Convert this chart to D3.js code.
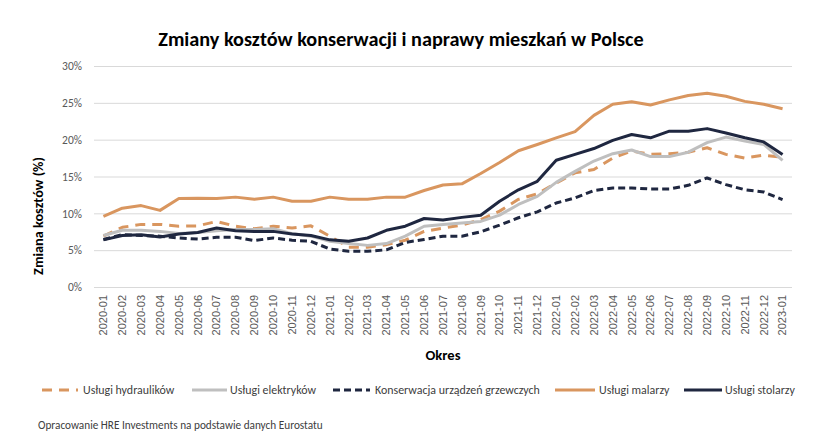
<!DOCTYPE html>
<html><head><meta charset="utf-8">
<script src="https://cdn.jsdelivr.net/npm/d3@7"></script>
<style>body{margin:0;background:#fff}</style>
</head><body>
<svg id="c" width="839" height="441"></svg>
<script>
const months = ["2020-01","2020-02","2020-03","2020-04","2020-05","2020-06","2020-07","2020-08","2020-09","2020-10","2020-11","2020-12",
"2021-01","2021-02","2021-03","2021-04","2021-05","2021-06","2021-07","2021-08","2021-09","2021-10","2021-11","2021-12",
"2022-01","2022-02","2022-03","2022-04","2022-05","2022-06","2022-07","2022-08","2022-09","2022-10","2022-11","2022-12","2023-01"];
const hydraulikow = [6.9,8.1,8.5,8.5,8.25,8.3,8.9,8.25,7.9,8.25,8.0,8.3,6.9,5.4,5.4,5.75,6.35,7.55,8.0,8.4,9.15,10.3,11.9,12.65,14.1,15.5,15.95,17.5,18.45,18.0,18.1,18.3,18.9,18.0,17.5,17.9,17.6];
const elektrykow = [7.0,7.7,7.7,7.55,7.25,7.4,7.65,7.8,7.8,7.9,7.25,6.9,6.2,5.9,5.65,5.9,6.9,8.25,8.5,8.7,8.9,9.75,11.2,12.3,14.2,15.7,17.1,18.1,18.6,17.7,17.7,18.3,19.6,20.35,19.8,19.35,17.2];
const konserwacja = [6.45,7.1,7.0,6.9,6.65,6.5,6.75,6.75,6.3,6.65,6.35,6.2,5.15,4.85,4.85,5.05,6.05,6.45,6.9,6.9,7.5,8.4,9.4,10.2,11.4,12.1,13.1,13.45,13.45,13.3,13.3,13.8,14.8,13.9,13.2,12.9,11.85];
const malarzy = [9.6,10.7,11.05,10.4,12.0,12.05,12.0,12.2,11.9,12.2,11.65,11.65,12.2,11.9,11.9,12.2,12.2,13.1,13.85,14.0,15.4,16.9,18.5,19.35,20.25,21.1,23.3,24.8,25.15,24.7,25.4,26.0,26.3,25.9,25.2,24.8,24.2];
const stolarzy = [6.4,7.0,7.1,6.8,7.2,7.4,8.0,7.65,7.55,7.55,7.2,7.0,6.4,6.2,6.65,7.7,8.25,9.3,9.1,9.45,9.75,11.65,13.2,14.35,17.2,18.0,18.8,19.9,20.7,20.25,21.15,21.15,21.5,20.9,20.25,19.7,18.0];
const yTicks = [0,5,10,15,20,25,30];
const seriesNames = ["Usługi hydraulików","Usługi elektryków","Konserwacja urządzeń grzewczych","Usługi malarzy","Usługi stolarzy"];
const titleText = "Zmiany kosztów konserwacji i naprawy mieszkań w Polsce";
const yTitle = "Zmiana kosztów (%)";
const xTitle = "Okres";
const footer = "Opracowanie HRE Investments na podstawie danych Eurostatu";

const ORANGE = "#D9965F", NAVY = "#1F2740", GREY = "#BFBFBF";
const series = [
  {name: seriesNames[0], values: hydraulikow, color: ORANGE, dash: "10,7"},
  {name: seriesNames[1], values: elektrykow, color: GREY, dash: null},
  {name: seriesNames[2], values: konserwacja, color: NAVY, dash: "7,4"},
  {name: seriesNames[3], values: malarzy, color: ORANGE, dash: null},
  {name: seriesNames[4], values: stolarzy, color: NAVY, dash: null}
];

const FONT = "Carlito, Lato, 'Open Sans', sans-serif";
const svg = d3.select("#c");
const L = 94, R = 792, T = 66, B = 287;

function fit(sel, w){
  const l = sel.node().getComputedTextLength();
  const fs = parseFloat(sel.attr("font-size"));
  sel.attr("font-size", fs * w / l);
}

const x = d3.scaleBand().domain(months).range([L, R]);
const y = d3.scaleLinear().domain([0, 30]).range([B, T]);

// y axis + grid
const ya = svg.append("g").attr("transform", `translate(${L},0)`)
  .call(d3.axisLeft(y).tickValues(yTicks).tickFormat(d => d + "%").tickSize(-(R - L)).tickPadding(12));
ya.select(".domain").remove();
ya.selectAll("line").attr("stroke", "#D9D9D9").attr("stroke-width", 1);
ya.selectAll("text").attr("font-family", FONT).attr("font-size", 11.5).attr("fill", "#595959");

// x axis
const xa = svg.append("g").attr("transform", `translate(0,${B})`)
  .call(d3.axisBottom(x).tickSize(0));
xa.select(".domain").remove();
xa.selectAll("text")
  .attr("font-family", "'Liberation Sans', Arial, sans-serif").attr("font-size", 11).attr("fill", "#595959")
  .attr("transform", "rotate(-90)").attr("text-anchor", "end")
  .attr("x", -8).attr("y", 0).attr("dy", "0.35em");

// lines
const line = d3.line().x((d, i) => x(months[i]) + x.bandwidth() / 2).y(d => y(d));
series.forEach(s => {
  svg.append("path").datum(s.values)
    .attr("fill", "none").attr("stroke", s.color).attr("stroke-width", 3)
    .attr("stroke-linejoin", "round")
    .attr("stroke-dasharray", s.dash)
    .attr("d", line);
});

// title
const t = svg.append("text").attr("x", 401).attr("y", 46).attr("text-anchor", "middle")
  .attr("font-family", FONT).attr("font-weight", "bold").attr("font-size", 17).attr("fill", "#000").text(titleText);
fit(t, 486);

// y title
const yt = svg.append("text").attr("transform", "translate(43,216) rotate(-90)").attr("text-anchor", "middle")
  .attr("font-family", FONT).attr("font-weight", "bold").attr("font-size", 12).attr("fill", "#000").text(yTitle);
fit(yt, 118);

// x title
const xt = svg.append("text").attr("x", 443).attr("y", 360).attr("text-anchor", "middle")
  .attr("font-family", FONT).attr("font-weight", "bold").attr("font-size", 13).attr("fill", "#000").text(xTitle);
fit(xt, 35);

// legend
const legendLayout = [
  {x1: 42, x2: 78, tx: 83},
  {x1: 192, x2: 227, tx: 230},
  {x1: 333, x2: 370, tx: 375},
  {x1: 555, x2: 595, tx: 599},
  {x1: 684, x2: 722, tx: 725}
];
const lg = svg.append("g");
let legTexts = [];
series.forEach((s, i) => {
  const p = legendLayout[i];
  lg.append("line").attr("x1", p.x1).attr("x2", p.x2).attr("y1", 390).attr("y2", 390)
    .attr("stroke", s.color).attr("stroke-width", 3).attr("stroke-dasharray", s.dash);
  legTexts.push(lg.append("text").attr("x", p.tx).attr("y", 390).attr("dy", "0.35em")
    .attr("font-family", FONT).attr("font-size", 11).attr("fill", "#404040").text(s.name));
});
{
  const l = legTexts[2].node().getComputedTextLength();
  const fs = 11 * 165 / l;
  legTexts.forEach(tt => tt.attr("font-size", fs));
}

// footer
const ft = svg.append("text").attr("x", 38).attr("y", 425).attr("dy", "0.35em")
  .attr("font-family", FONT).attr("font-size", 11).attr("fill", "#404040").text(footer);
fit(ft, 285);
</script>
</body></html>
